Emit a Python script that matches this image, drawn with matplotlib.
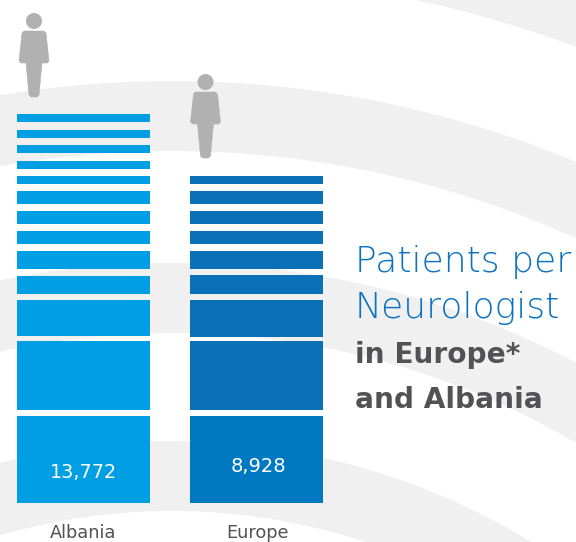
import matplotlib
matplotlib.use("Agg")
import matplotlib.pyplot as plt
import numpy as np
from matplotlib.patches import Annulus, Circle, Polygon

# stack segments, bottom to top, heights and the gap under each next one
albania_heights = [87, 69, 36, 18, 18, 13, 13, 13, 8, 8, 8, 8, 8]
albania_gaps = [6, 5, 6, 7, 7, 7, 7, 7, 7, 8, 7, 8, 0]
europe_heights = [87, 69, 37, 19, 18, 13, 13, 13, 8]
europe_gaps = [6, 4, 6, 6, 7, 7, 7, 7, 0]

countries = ["Albania", "Europe"]
patients = ["13,772", "8,928"]
title_blue = ["Patients per", "Neurologist"]
title_grey = ["in Europe*", "and Albania"]

BLUE_LIGHT = "#009fe3"
BLUE_DARK = "#0a70b7"
BLUE_BASE = "#0079c2"
BLUE_TITLE = "#0a72c0"
GREY_TEXT = "#525254"
GREY_BAND = "#f0f0f0"
GREY_FIG = "#b1b1b1"

plt.rcParams["font.family"] = "DejaVu Sans"

# canvas in pixels, y = 0 on the bar baseline
fig = plt.figure(figsize=(5.76, 5.42), dpi=100)
ax = fig.add_axes([0, 0, 1, 1])
ax.set_xlim(0, 576)
ax.set_ylim(-39, 503)
ax.axis("off")

# background bands
center = (172, -628)
for r in [1227, 1050, 868, 690]:
    ax.add_patch(Annulus(center, r, 70, color=GREY_BAND, lw=0, zorder=0))


def stack(x, heights, gaps, color, base_color):
    bottoms = np.concatenate([[0], np.cumsum(np.array(heights) + np.array(gaps))[:-1]])
    colors = [base_color] + [color] * (len(heights) - 1)
    ax.bar(x, heights, width=133, bottom=bottoms, align="edge", color=colors, lw=0, zorder=2)
    return bottoms[-1] + heights[-1]


def person(cx, foot):
    # foot is the y of the lowest point of the figure
    body = [(-10, 66), (10, 66), (12, 64), (15, 36), (13, 34), (8, 34), (5, 2),
            (3, 0), (-3, 0), (-5, 2), (-8, 34), (-13, 34), (-15, 36), (-12, 64)]
    pts = [(cx + dx, foot + dy) for dx, dy in body]
    ax.add_patch(Polygon(pts, closed=True, fc=GREY_FIG, ec=GREY_FIG, lw=0.4, joinstyle="round", zorder=3))
    ax.add_patch(Circle((cx, foot + 76), 8, fc=GREY_FIG, lw=0, zorder=3))


top_a = stack(17, albania_heights, albania_gaps, BLUE_LIGHT, BLUE_LIGHT)
top_e = stack(190, europe_heights, europe_gaps, BLUE_DARK, BLUE_BASE)

person(34, top_a + 17)
person(205.5, top_e + 18)

# labels
ax.text(83.5, 31, patients[0], color="white", fontsize=13.8, ha="center", va="center", zorder=4)
ax.text(258, 36, patients[1], color="white", fontsize=14, ha="center", va="center", zorder=4)
ax.text(83.5, -35, countries[0], color=GREY_TEXT, fontsize=12.8, ha="center", va="baseline")
ax.text(257, -35, countries[1], color=GREY_TEXT, fontsize=12.8, ha="center", va="baseline")

# title block
for s, y in zip(title_blue, [231, 185]):
    ax.text(355, y, s, color=BLUE_TITLE, fontsize=26, family="DejaVu Sans", weight=200, ha="left", va="baseline", zorder=4)
for s, y in zip(title_grey, [140, 95]):
    ax.text(355, y, s, color=GREY_TEXT, fontsize=20.2, weight="bold", ha="left", va="baseline", zorder=4)

fig.savefig("out.png", dpi=100)
